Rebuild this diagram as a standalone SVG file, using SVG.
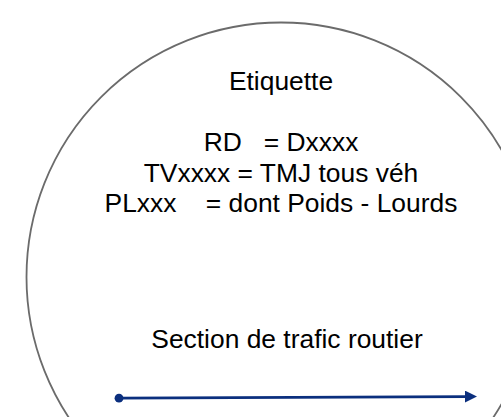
<svg xmlns="http://www.w3.org/2000/svg" width="501" height="417" viewBox="0 0 501 417">
  <style>
    .lbl { font-family: "Liberation Sans", Arial, sans-serif; font-size: 26.4px; fill: #000; text-anchor: middle; }
  </style>
  <defs>
    <marker id="arrow" markerWidth="12" markerHeight="12" refX="1" refY="6" orient="auto" markerUnits="userSpaceOnUse">
      <path d="M0,0 L12,6 L0,12 Z" fill="#0b2f7e"/>
    </marker>
  </defs>
  <rect width="501" height="417" fill="#ffffff"/>
  <g id="zone">
    <circle cx="281" cy="277" r="254.5" fill="none" stroke="#6b6b6b" stroke-width="1.8"/>
    <text class="lbl" x="281" y="89.5" xml:space="preserve">Etiquette</text>
    <text class="lbl" x="281" y="151" xml:space="preserve">RD   = Dxxxx</text>
    <text class="lbl" x="281" y="181.5" xml:space="preserve">TVxxxx = TMJ tous véh</text>
    <text class="lbl" x="281" y="212" xml:space="preserve">PLxxx    = dont Poids - Lourds</text>
    <text class="lbl" x="287" y="347.5" xml:space="preserve">Section de trafic routier</text>
  </g>
  <g id="connectors">
    <line x1="119" y1="398.2" x2="466" y2="396.6" stroke="#0b2f7e" stroke-width="2.8" marker-end="url(#arrow)"/>
    <circle cx="119" cy="398.2" r="4.4" fill="#0b2f7e"/>
  </g>
</svg>
